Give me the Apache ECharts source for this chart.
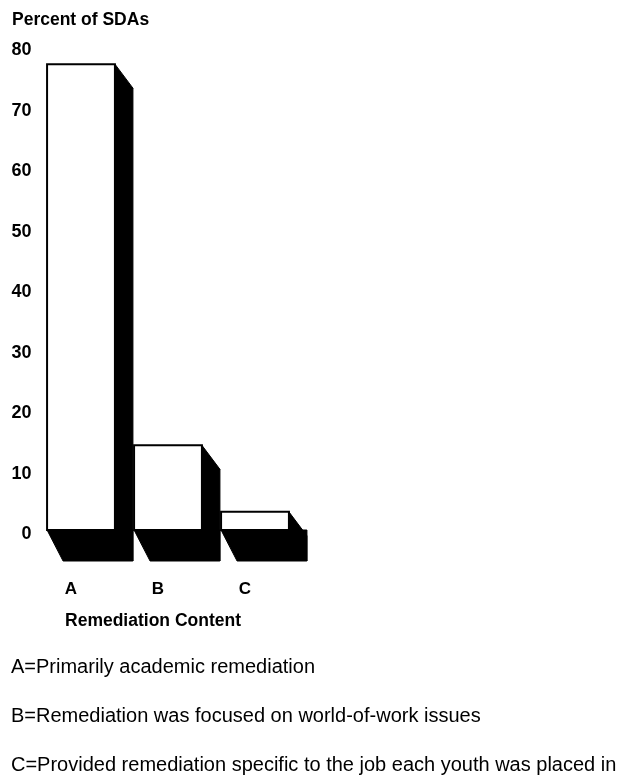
<!DOCTYPE html>
<html><head><meta charset="utf-8">
<script src="https://cdn.jsdelivr.net/npm/echarts@6/dist/echarts.min.js"></script>
<style>html,body{margin:0;padding:0;background:#fff}#c{width:637px;height:777px}</style>
</head><body><div id="c"></div>
<script>
var categories = ['A', 'B', 'C'];
var values = [77, 14, 3];
var yTicks = [0, 10, 20, 30, 40, 50, 60, 70, 80];
var yTitle = 'Percent of SDAs';
var xTitle = 'Remediation Content';
var notes = [
  'A=Primarily academic remediation',
  'B=Remediation was focused on world-of-work issues',
  'C=Provided remediation specific to the job each youth was placed in'
];

var FONT = '"Liberation Sans", Arial, sans-serif';
var chart = echarts.init(document.getElementById('c'));

function renderItem(params, api) {
  var i = api.value(0), v = api.value(1);
  var top = api.coord([i, v]);
  var base = api.coord([i, 0]);
  var w = api.size([1, 0])[0] * 0.78;
  var x0 = top[0] - w / 2, x1 = top[0] + w / 2;
  var ty = top[1], by = base[1];
  var dx = 18, sdy = 24, bdy = 31;
  return {
    type: 'group',
    children: [
      { type: 'polygon', shape: { points: [[x0, by], [x1 + dx, by], [x1 + dx, by + bdy], [x0 + dx - 2, by + bdy]] },
        style: { fill: '#000', stroke: '#000', lineWidth: 1 } },
      { type: 'polygon', shape: { points: [[x1, ty], [x1 + dx, ty + sdy], [x1 + dx, by + bdy], [x1, by]] },
        style: { fill: '#000', stroke: '#000', lineWidth: 1 } },
      { type: 'rect', shape: { x: x0, y: ty, width: w, height: by - ty },
        style: { fill: '#fff', stroke: '#000', lineWidth: 2 } }
    ]
  };
}

chart.setOption({
  animation: false,
  backgroundColor: '#fff',
  title: { text: yTitle, left: 7, top: 6,
    textStyle: { fontFamily: FONT, fontWeight: 'bold', fontSize: 17.5, color: '#000' } },
  grid: { left: 37.5, right: 338.5, top: 46, bottom: 247 },
  xAxis: {
    type: 'category', data: categories,
    axisLine: { show: false }, axisTick: { show: false },
    axisLabel: { margin: 51, padding: [0, 20, 0, 0], color: '#000',
      fontFamily: FONT, fontWeight: 'bold', fontSize: 17 },
    name: xTitle, nameLocation: 'middle', nameGap: 82,
    nameTextStyle: { color: '#000', fontFamily: FONT, fontWeight: 'bold', fontSize: 17.5, padding: [0, 30, 0, 0] }
  },
  yAxis: {
    type: 'value', min: yTicks[0], max: yTicks[yTicks.length - 1], interval: 10,
    axisLine: { show: false }, axisTick: { show: false }, splitLine: { show: false },
    axisLabel: { margin: 6, color: '#000', fontFamily: FONT, fontWeight: 'bold', fontSize: 18,
      verticalAlign: 'top', lineHeight: 9 }
  },
  series: [{
    type: 'custom', renderItem: renderItem,
    data: values.map(function (v, i) { return [i, v]; }),
    clip: false
  }],
  graphic: notes.map(function (t, k) {
    return { type: 'text', x: 11, y: 667 + k * 49,
      style: { text: t, fill: '#000', font: '20px ' + FONT, textVerticalAlign: 'middle' } };
  })
});
</script></body></html>
